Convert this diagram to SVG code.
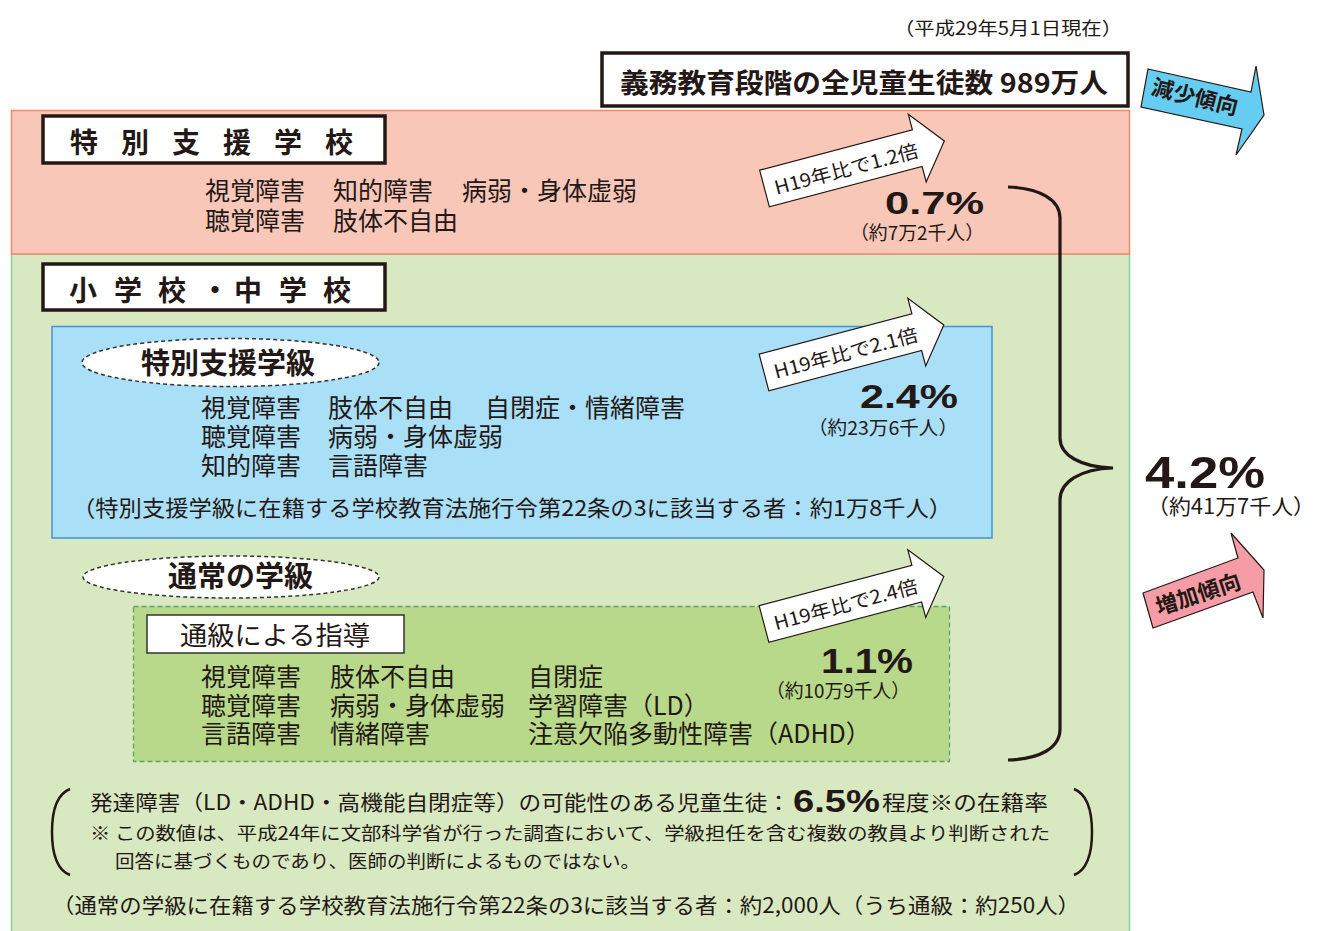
<svg xmlns="http://www.w3.org/2000/svg" width="1318" height="931" viewBox="0 0 1318 931">
<defs>
<style>
text{font-family:"Noto Sans CJK JP","Noto Sans",sans-serif;fill:#231815}
.b{font-weight:bold}
.num{font-family:"Liberation Sans","Noto Sans",sans-serif;font-weight:bold}
.frame{fill:#fff;stroke:#231815;stroke-width:3.5}
.dash{fill:#fff;stroke:#333;stroke-width:1.5;stroke-dasharray:4 3}
.arrow{fill:#fff;stroke:#231815;stroke-width:1.2;stroke-linejoin:miter}
.s25{font-size:25px}
</style>
<polygon id="upArrow" class="arrow" points="0,-19 158,-19 158,-35 186,0 158,35 158,19 0,19"/>
</defs>
<rect width="1318" height="931" fill="#fff"/>

<g id="date"><text x="894" y="35" font-size="18" textLength="228" lengthAdjust="spacingAndGlyphs">（平成29年5月1日現在）</text></g>

<g id="total">
<rect class="frame" x="602" y="53" width="526" height="53"/>
<text class="b" x="620" y="93" font-size="27" textLength="488" lengthAdjust="spacingAndGlyphs">義務教育段階の全児童生徒数 989万人</text>
</g>

<g id="region-green"><rect x="11.5" y="254" width="1118" height="700" fill="#d8e9c1" stroke="#86d0a2" stroke-width="1.5"/></g>
<g id="region-pink"><rect x="11.5" y="110.5" width="1118" height="143.5" fill="#f9c7b8" stroke="#f08a6e" stroke-width="1.5"/></g>

<g id="tokubetsu-shien-gakko">
<rect class="frame" x="43" y="116" width="342" height="47"/>
<g class="b" font-size="28">
<text x="70" y="153">特</text><text x="121" y="153">別</text><text x="172" y="153">支</text><text x="223" y="153">援</text><text x="274" y="153">学</text><text x="325" y="153">校</text>
</g>
<g class="s25">
<text x="205" y="200">視覚障害</text><text x="333" y="200">知的障害</text><text x="462" y="200">病弱・身体虚弱</text>
<text x="205" y="230">聴覚障害</text><text x="333" y="230">肢体不自由</text>
</g>
</g>

<g id="sho-chu-gakko">
<rect class="frame" x="43" y="264" width="342" height="46"/>
<g class="b" font-size="28">
<text x="69" y="301">小</text><text x="114" y="301">学</text><text x="158" y="301">校</text><text x="201" y="301">・</text><text x="234" y="301">中</text><text x="279" y="301">学</text><text x="323" y="301">校</text>
</g>
</g>

<g id="tokubetsu-shien-gakkyu">
<rect x="52" y="326.5" width="940" height="211.5" fill="#a9dff7" stroke="#4592d8" stroke-width="1.5"/>
<ellipse class="dash" cx="230.5" cy="362.5" rx="148.5" ry="24"/>
<text class="b" x="228" y="374" font-size="29" text-anchor="middle">特別支援学級</text>
<g class="s25">
<text x="201" y="417">視覚障害</text><text x="328" y="417">肢体不自由</text><text x="485" y="417">自閉症・情緒障害</text>
<text x="201" y="446">聴覚障害</text><text x="328" y="446">病弱・身体虚弱</text>
<text x="201" y="475">知的障害</text><text x="328" y="475">言語障害</text>
</g>
<text x="72" y="516" font-size="22" textLength="880" lengthAdjust="spacingAndGlyphs">（特別支援学級に在籍する学校教育法施行令第22条の3に該当する者：約1万8千人）</text>
</g>

<g id="tsujo-gakkyu">
<ellipse class="dash" cx="231" cy="577" rx="148" ry="21"/>
<text class="b" x="168" y="587" font-size="29">通常の学級</text>
</g>

<g id="tsukyu">
<rect x="133.5" y="606.5" width="816" height="155" fill="#b8d98a" stroke="#5f9d72" stroke-width="1.3" stroke-dasharray="5 3"/>
<rect x="147" y="615" width="257" height="38" fill="#fff" stroke="#333" stroke-width="1.5"/>
<text x="180" y="645" font-size="26" textLength="190" lengthAdjust="spacingAndGlyphs">通級による指導</text>
<g class="s25">
<text x="201" y="686">視覚障害</text><text x="330" y="686">肢体不自由</text><text x="528" y="686">自閉症</text>
<text x="201" y="715">聴覚障害</text><text x="330" y="715">病弱・身体虚弱</text><text x="528" y="715">学習障害（LD）</text>
<text x="201" y="743">言語障害</text><text x="330" y="743">情緒障害</text><text x="528" y="743">注意欠陥多動性障害（ADHD）</text>
</g>
</g>

<g id="ratio-school">
<g transform="translate(764.5,188.5) rotate(-14.8)">
<use href="#upArrow"/>
<text x="10" y="9" font-size="19" textLength="148" lengthAdjust="spacingAndGlyphs">H19年比で1.2倍</text>
</g>
<text class="num" x="885" y="213.5" font-size="32" textLength="99" lengthAdjust="spacingAndGlyphs">0.7%</text>
<text x="850" y="240" font-size="19" textLength="134" lengthAdjust="spacingAndGlyphs">（約7万2千人）</text>
</g>

<g id="ratio-class">
<g transform="translate(764,372.5) rotate(-14.8)">
<use href="#upArrow"/>
<text x="10" y="9" font-size="19" textLength="148" lengthAdjust="spacingAndGlyphs">H19年比で2.1倍</text>
</g>
<text class="num" x="860" y="408" font-size="34" textLength="98" lengthAdjust="spacingAndGlyphs">2.4%</text>
<text x="808" y="435" font-size="19" textLength="150" lengthAdjust="spacingAndGlyphs">（約23万6千人）</text>
</g>

<g id="ratio-tsukyu">
<g transform="translate(764,624) rotate(-14.8)">
<use href="#upArrow"/>
<text x="10" y="9" font-size="19" textLength="148" lengthAdjust="spacingAndGlyphs">H19年比で2.4倍</text>
</g>
<text class="num" x="821" y="673" font-size="35" textLength="92" lengthAdjust="spacingAndGlyphs">1.1%</text>
<text x="766" y="698" font-size="19" textLength="144" lengthAdjust="spacingAndGlyphs">（約10万9千人）</text>
</g>

<g id="connectors">
<path d="M1008,187 C1040,188 1060,200 1060,218 L1060,438 C1060,455 1080,467 1113,468 C1080,469 1060,482 1060,500 L1060,729 C1060,748 1040,759 1008,760" fill="none" stroke="#231815" stroke-width="3.2"/>
</g>

<g id="ratio-total">
<text class="num" x="1145" y="488" font-size="44" textLength="120" lengthAdjust="spacingAndGlyphs">4.2%</text>
<text x="1147" y="514" font-size="21" textLength="168" lengthAdjust="spacingAndGlyphs">（約41万7千人）</text>
</g>

<g id="trend-down">
<polygon points="1148,69 1251,92 1256,66 1264,115 1236,155 1242,129 1141,107" fill="#66cdf2" stroke="#231815" stroke-width="1.2"/>
<text class="b" transform="translate(1195,97) rotate(14)" x="0" y="8" font-size="22" text-anchor="middle">減少傾向</text>
</g>

<g id="trend-up">
<polygon points="1143,593 1238,558 1231,533 1264,570 1263,618 1253,592 1153,628" fill="#f59ca6" stroke="#231815" stroke-width="1.2"/>
<text class="b" transform="translate(1198,594) rotate(-18)" x="0" y="8" font-size="22" text-anchor="middle">増加傾向</text>
</g>

<g id="hattatsu-note">
<path d="M70,789 Q52,796 52,832 Q52,868 70,875" fill="none" stroke="#231815" stroke-width="2.5"/>
<path d="M1074,789 Q1092,796 1092,832 Q1092,868 1074,875" fill="none" stroke="#231815" stroke-width="2.5"/>
<text x="90" y="810" font-size="21" textLength="700" lengthAdjust="spacingAndGlyphs">発達障害（LD・ADHD・高機能自閉症等）の可能性のある児童生徒：</text>
<text class="num" x="793" y="812" font-size="32" textLength="87" lengthAdjust="spacingAndGlyphs">6.5%</text>
<text x="882" y="810" font-size="21" textLength="166" lengthAdjust="spacingAndGlyphs">程度※の在籍率</text>
<text x="90" y="840" font-size="18" textLength="960" lengthAdjust="spacingAndGlyphs">※ この数値は、平成24年に文部科学省が行った調査において、学級担任を含む複数の教員より判断された</text>
<text x="115" y="868" font-size="18" textLength="525" lengthAdjust="spacingAndGlyphs">回答に基づくものであり、医師の判断によるものではない。</text>
</g>

<g id="tsujo-note">
<text x="52" y="913" font-size="21" textLength="1028" lengthAdjust="spacingAndGlyphs">（通常の学級に在籍する学校教育法施行令第22条の3に該当する者：約2,000人（うち通級：約250人）</text>
</g>
</svg>
